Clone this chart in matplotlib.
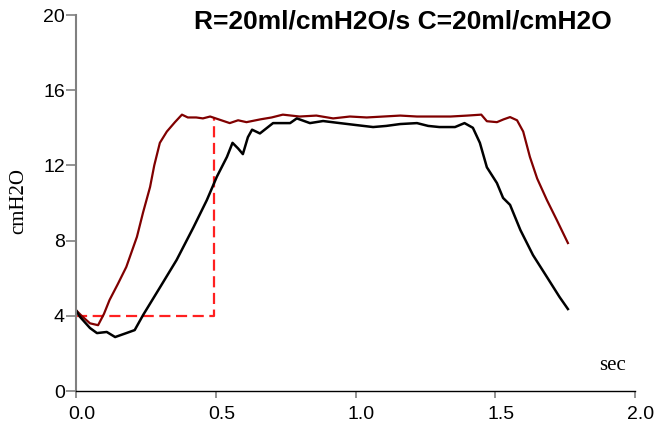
import matplotlib
matplotlib.use("Agg")
import matplotlib.pyplot as plt
import matplotlib.transforms as mtransforms

# measured (inspiratory) pressure - dark red
red_t = [0.0, 0.02, 0.05, 0.079, 0.10, 0.12, 0.15, 0.18, 0.218, 0.24, 0.265, 0.28, 0.30, 0.325,
         0.354, 0.379, 0.40, 0.43, 0.454, 0.48, 0.52, 0.55, 0.58, 0.61, 0.66, 0.70, 0.74, 0.80,
         0.86, 0.92, 0.98, 1.04, 1.10, 1.16, 1.22, 1.28, 1.34, 1.40, 1.45, 1.47, 1.506, 1.53,
         1.553, 1.578, 1.60, 1.624, 1.65, 1.685, 1.72, 1.76]
red_p = [4.3, 4.0, 3.6, 3.5, 4.1, 4.84, 5.7, 6.6, 8.2, 9.5, 10.85, 12.0, 13.2, 13.8,
         14.3, 14.7, 14.55, 14.55, 14.5, 14.6, 14.4, 14.25, 14.4, 14.3, 14.45, 14.55, 14.7, 14.6,
         14.65, 14.5, 14.6, 14.55, 14.6, 14.65, 14.6, 14.6, 14.6, 14.65, 14.7, 14.35, 14.3, 14.45,
         14.57, 14.4, 13.8, 12.45, 11.3, 10.15, 9.1, 7.87]

# simulated pressure - black
blk_t = [0.0, 0.014, 0.05, 0.075, 0.11, 0.14, 0.18, 0.21, 0.24, 0.30, 0.36, 0.42, 0.468, 0.504,
         0.54, 0.56, 0.58, 0.597, 0.615, 0.63, 0.658, 0.705, 0.766, 0.79, 0.837, 0.884, 0.944,
         1.00, 1.063, 1.11, 1.16, 1.22, 1.26, 1.30, 1.356, 1.39, 1.42, 1.445, 1.47, 1.506, 1.528,
         1.553, 1.59, 1.635, 1.685, 1.73, 1.76]
blk_p = [4.3, 3.95, 3.35, 3.08, 3.14, 2.87, 3.08, 3.24, 4.04, 5.5, 6.97, 8.7, 10.15, 11.4,
         12.45, 13.2, 12.9, 12.6, 13.5, 13.9, 13.7, 14.25, 14.25, 14.5, 14.25, 14.36, 14.25,
         14.15, 14.04, 14.1, 14.2, 14.25, 14.1, 14.04, 14.04, 14.25, 14.0, 13.2, 11.9, 11.06, 10.27,
         9.9, 8.56, 7.23, 6.06, 5.0, 4.36]

# set pressure (dashed)
set_t = [0.0, 0.495, 0.495]
set_p = [4.0, 4.0, 14.6]

x_ticks = [0.0, 0.5, 1.0, 1.5, 2.0]
x_labels = ["0.0", "0.5", "1.0", "1.5", "2.0"]
y_ticks = [0, 4, 8, 12, 16, 20]
y_labels = ["0", "4", "8", "12", "16", "20"]
title = "R=20ml/cmH2O/s C=20ml/cmH2O"

fig = plt.figure(figsize=(6.6, 4.37), dpi=100)
ax = fig.add_axes([76/660, 1-391/437, (635-76)/660, (391-15)/437])

ax.plot(set_t, set_p, color="#ff2020", lw=1.6, ls=(0, (5, 2.5)))
ax.plot(red_t, red_p, color="#800000", lw=1.6)
ax.plot(blk_t, blk_p, color="#000000", lw=1.8)

ax.set_xlim(0, 2.0)
ax.set_ylim(0, 20)
ax.set_xticks(x_ticks)
ax.set_xticklabels(x_labels)
ax.set_yticks(y_ticks)
ax.set_yticklabels(y_labels)

for s in ["top", "right"]:
    ax.spines[s].set_visible(False)
ax.spines["left"].set_color("#808080")
ax.spines["left"].set_linewidth(1.5)
ax.spines["bottom"].set_color("black")
ax.spines["bottom"].set_linewidth(1.0)

ax.tick_params(axis="x", direction="out", length=5, width=1.2, color="#808080",
               labelsize=14, pad=6)
ax.tick_params(axis="y", direction="out", length=7, width=1.2, color="#808080",
               labelsize=14, pad=1)
for lab in ax.get_xticklabels() + ax.get_yticklabels():
    lab.set_fontfamily("Liberation Sans")
off = mtransforms.ScaledTranslation(6/100, 0, fig.dpi_scale_trans)
for lab in ax.get_xticklabels():
    lab.set_transform(lab.get_transform() + off)

fig.text(403/660, 1-28.5/437, title, ha="center", va="baseline", fontsize=19,
         fontweight="bold", family="Liberation Sans")
fig.text(19/660, 1-201/437, "cmH2O", rotation=90, ha="center", va="center",
         fontsize=15, family="Liberation Serif")
fig.text(613/660, 1-366/437, "sec", ha="center", va="center",
         fontsize=15, family="Liberation Serif")

fig.savefig("out.png", dpi=100)
